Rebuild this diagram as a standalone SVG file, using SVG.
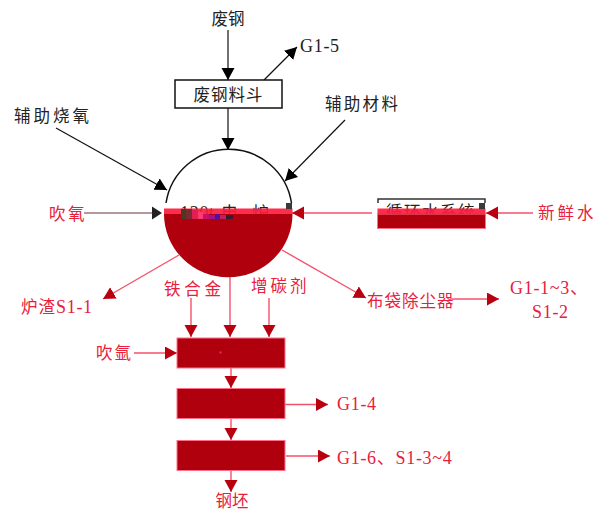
<svg xmlns="http://www.w3.org/2000/svg" width="598" height="513" viewBox="0 0 598 513">
<style>
text{font-family:"Liberation Serif","Noto Sans CJK SC",serif;font-size:16.5px}
.l{font-size:18px;letter-spacing:.7px}
.k{fill:#222}
.r{fill:#e8203c}
.m{text-anchor:middle}
.ln{fill:none;stroke-width:1.2}
.lk{stroke:#111;marker-end:url(#ak)}
.lr{stroke:#f5506a;stroke-width:1.4;marker-end:url(#ar)}
.bx{fill:#b0000e;stroke:#ff7088;stroke-width:1}
.band{fill:#ff1a3c;fill-opacity:.92}
.sq{fill:#3a3a3a}
</style>
<defs>
<marker id="ak" markerUnits="userSpaceOnUse" markerWidth="14" markerHeight="14" refX="12" refY="6.500" orient="auto"><path d="M0 0L12 6.500L0 13Z" fill="#000"/></marker>
<marker id="ar" markerUnits="userSpaceOnUse" markerWidth="14" markerHeight="14" refX="12" refY="6.500" orient="auto"><path d="M0 0L12 6.500L0 13Z" fill="#b8000f"/></marker>
</defs>
<g id="connectors">
<path class="ln lk" d="M228 30V80"/>
<path class="ln lk" d="M264 80L297 47"/>
<path class="ln lk" d="M228 108V150"/>
<path class="ln lk" d="M345 120L285 181"/>
<path class="ln lk" d="M56 128L167 190"/>
<path class="ln" stroke="#6a3038" d="M84 213H152"/>
<path d="M152 206.500L162 213L152 219.500Z" fill="#222"/>
<path class="ln lr" d="M372 213H292"/>
<path class="ln lr" d="M533 213H486"/>
<path class="ln lr" d="M179 255L103 299"/>
<path class="ln lr" d="M191 298V337"/>
<path class="ln lr" d="M230 277V337"/>
<path class="ln lr" d="M269 298V337"/>
<path class="ln lr" d="M134 353H177"/>
<path class="ln lr" d="M282 250L366 298"/>
<path class="ln lr" d="M450 299H499"/>
<path class="ln lr" d="M231 368V388"/>
<path class="ln lr" d="M231 418V440"/>
<path class="ln lr" d="M231 470V492"/>
<path class="ln lr" d="M285 404.500H328"/>
<path class="ln lr" d="M286 456H330"/>
</g>
<g id="n-feigang"><text class="k m" x="228" y="25">废钢</text></g>
<g id="n-g15"><text class="k l" x="300" y="52">G1-5</text></g>
<g id="n-hopper"><rect x="175" y="80" width="107" height="28" fill="#fff" stroke="#111" stroke-width="1.500"/><text class="k m" x="228.500" y="101" letter-spacing="1">废钢料斗</text></g>
<g id="n-fuzhucailiao"><text class="k" x="325" y="110" letter-spacing="2.300">辅助材料</text></g>
<g id="n-fuzhushaoyang"><text class="k" x="14" y="122" letter-spacing="3">辅助烧氧</text></g>
<g id="n-chuiyang"><text class="r" x="49" y="220" letter-spacing="2.500">吹氧</text></g>
<g id="n-furnace">
<path d="M166 203A63.500 63.500 0 0 1 291.500 203" fill="none" stroke="#111" stroke-width="1.500"/>
<text class="k l" x="180" y="219">120t<tspan x="221" font-size="17">电</tspan><tspan x="252" font-size="17">炉</tspan></text>
<path d="M164 214H292.500A64 63 0 0 1 164 214Z" fill="#b0000e"/>
<rect class="band" x="164" y="208.500" width="128.500" height="5.500"/>
<rect class="sq" x="286" y="203" width="6" height="6"/>
<rect x="181" y="209" width="5" height="10" fill="#4a3a20"/>
<rect x="186" y="209" width="6" height="10" fill="#7a2a30"/>
<rect x="192" y="210" width="6" height="9" fill="#e02050"/>
<rect x="198" y="212" width="5" height="7" fill="#ff3a70"/>
<rect x="203" y="214" width="6" height="5" fill="#c81068"/>
<rect x="209" y="215" width="6" height="4" fill="#a01090"/>
<rect x="215" y="214" width="5" height="5" fill="#5010a0"/>
<rect x="220" y="215" width="6" height="4" fill="#c02060"/>
<rect x="226" y="215" width="7" height="4" fill="#3a1a30"/>
</g>
<g id="n-circulation">
<path d="M378 203V199H485V203" fill="none" stroke="#333" stroke-width="1.500"/>
<text class="k" x="386" y="218" letter-spacing="1.500">循环水系统</text>
<rect x="377.500" y="214" width="108" height="14.500" fill="#b0000e" stroke="#ff7088"/>
<rect class="band" x="377.500" y="208.500" width="108" height="5.500"/>
<rect class="sq" x="479" y="203" width="6" height="6"/>
</g>
<g id="n-xinxianshui"><text class="r" x="538" y="219" letter-spacing="3">新鲜水</text></g>
<g id="n-luzha"><text class="r" x="21" y="313" letter-spacing="1">炉渣<tspan class="l">S1-1</tspan></text></g>
<g id="n-tiehejin"><text class="r" x="164" y="295" letter-spacing="3.700">铁合金</text></g>
<g id="n-zengtanji"><text class="r" x="251" y="292" letter-spacing="3">增碳剂</text></g>
<g id="n-budai"><text class="r" x="367" y="307" letter-spacing="1">布袋除尘器</text></g>
<g id="n-g113"><text class="r l" x="510" y="294">G1-1~3、</text><text class="r l" x="532" y="318">S1-2</text></g>
<g id="n-chuiya"><text class="r" x="96" y="359" letter-spacing="2">吹氩</text></g>
<g id="n-box1"><rect class="bx" x="177" y="338" width="108" height="30"/><rect x="219.500" y="351.500" width="2" height="2" fill="#e03060"/></g>
<g id="n-box2"><rect class="bx" x="177" y="388.500" width="108" height="30"/></g>
<g id="n-box3"><rect class="bx" x="177" y="440.500" width="108" height="30"/></g>
<g id="n-g14"><text class="r l" x="337" y="410">G1-4</text></g>
<g id="n-g16"><text class="r l" x="337" y="464">G1-6、S1-3~4</text></g>
<g id="n-gangpi"><text class="r m" x="232" y="507">钢坯</text></g>
</svg>
